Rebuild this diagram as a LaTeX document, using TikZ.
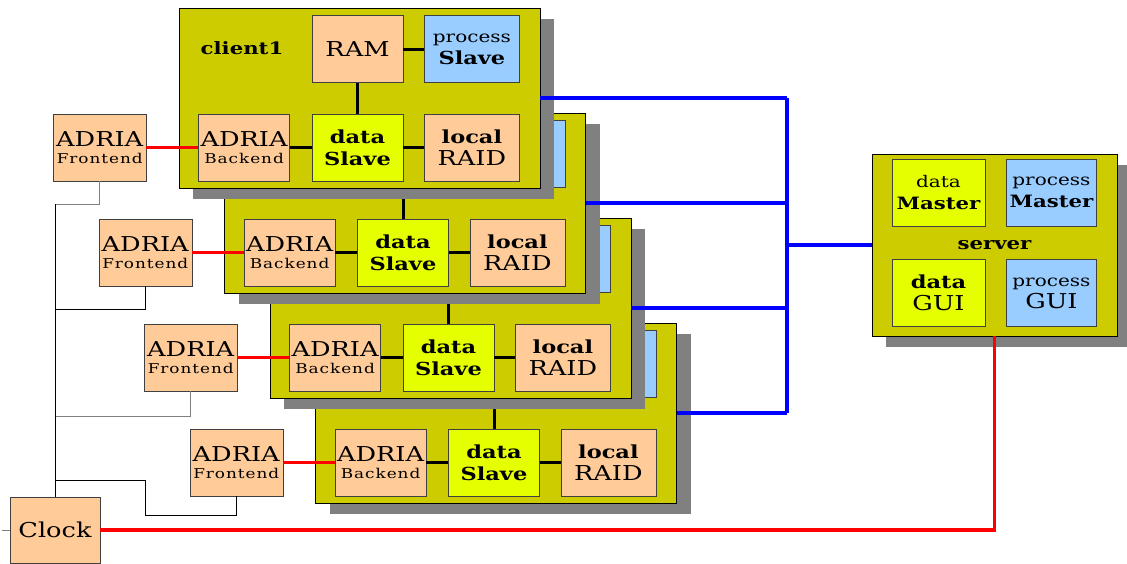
\documentclass[tikz,border=0pt]{standalone}
\usepackage{fontspec}
\setmainfont[FakeStretch=1.25]{DejaVu Serif}
\usetikzlibrary{positioning,shadows}

\definecolor{hostolive}{HTML}{CCCC00}
\definecolor{peachbox}{HTML}{FFCC99}
\definecolor{dataylw}{HTML}{E6FF00}
\definecolor{procblue}{HTML}{99CCFF}
\definecolor{shadowgray}{HTML}{808080}

\newcommand\bigtxt{\fontsize{20.5}{22}\selectfont}
\newcommand\boldtxt{\fontsize{18}{22}\selectfont\bfseries}
\newcommand\proctxt{\fontsize{16}{22}\selectfont}
\newcommand\tagtxt{\fontsize{13.5}{16}\selectfont\addfontfeature{LetterSpace=7}}
\newcommand\hosttxt{\fontsize{17}{19}\selectfont\bfseries}

\begin{document}
\begin{tikzpicture}[
  x=1pt, y=-1pt,
  hostbox/.style={draw=black, fill=hostolive, inner sep=0pt,
    drop shadow={shadow xshift=14pt, shadow yshift=-11pt, fill=shadowgray, opacity=1}},
  clientbox/.style={hostbox, minimum width=361pt, minimum height=180pt},
  serverbox/.style={hostbox, minimum width=245pt, minimum height=182pt},
  unit/.style={draw=black!75, inner sep=0pt, minimum height=67pt, align=center,
    font=\fontsize{18}{22}\selectfont},
  peach/.style={unit, fill=peachbox, minimum width=91pt},
  lemon/.style={unit, fill=dataylw, minimum width=91pt},
  sky/.style={unit, fill=procblue, minimum width=95pt},
  adria/.style={peach, font=\fontsize{13.5}{16.5}\selectfont},
  wire/.style={line width=3pt},
  redwire/.style={line width=3.5pt, red},
  bluewire/.style={line width=3.5pt, blue},
  sync/.style={line width=0.8pt}
]
\useasboundingbox (0,0) rectangle (1127,563);

% clients, back to front (top row of 2-4 is hidden)
\foreach \i in {4,3,2,1}{
  \begin{scope}[shift={({45.5*(\i-1)},{105*(\i-1)})}]
    \node[clientbox] (c\i) at (359.5,98) {};
    \node[lemon] (ds\i) at (357.5,147.5) {\boldtxt data\\\boldtxt Slave};
    \node[adria, left=22pt of ds\i] (be\i) {\bigtxt ADRIA\\\tagtxt Backend};
    \node[peach, right=21pt of ds\i, minimum width=95pt] (rd\i) {\boldtxt local\\\bigtxt RAID};
    \node[peach, above=31pt of ds\i] (ram\i) {\ifnum\i=1 \bigtxt RAM\fi};
    \node[sky, right=21pt of ram\i] (ps\i) {\ifnum\i=1 \proctxt process\\\boldtxt Slave\fi};
    \draw[wire] (be\i) -- (ds\i);
    \draw[wire] (ds\i) -- (rd\i);
    \draw[wire] (ram\i) -- (ps\i);
    \draw[wire] (ram\i) -- (ds\i);
    \node[adria, minimum width=93pt, left=52pt of be\i] (fe\i) {\bigtxt ADRIA\\\tagtxt Frontend};
  \end{scope}
}
\node[font=\hosttxt] (lbl1) at (242,48) {client1};

% server
\node[serverbox] (srv) at (994.5,245) {};
\node[lemon, minimum width=93pt] (dm) at (938.5,192.5) {\proctxt data\\\boldtxt\fontsize{17}{22}\selectfont Master};
\node[sky, minimum width=90pt, right=21pt of dm] (pm) {\proctxt process\\\boldtxt\fontsize{17}{22}\selectfont Master};
\node[lemon, minimum width=93pt, below=33pt of dm] (dg) {\boldtxt data\\\bigtxt GUI};
\node[sky, minimum width=90pt, right=21pt of dg] (pg) {\proctxt process\\\bigtxt GUI};
\node[font=\hosttxt] (slbl) at (srv) {server};

% clock
\node[peach, minimum width=90pt, minimum height=66pt] (clk) at (55,530) {\bigtxt Clock};
\draw[sync, gray] (clk.west) -- ++(-8,0);

% frontend to backend links
\foreach \i in {1,...,4}
  \draw[redwire] (fe\i) -- (be\i);

% clock distribution
\draw[sync, gray] (fe1.south) -- ++(0,23) coordinate (k1) -- (k1 -| clk);
\draw[sync] (fe2.south) -- ++(0,23) coordinate (k2) -- (k2 -| clk);
\draw[sync, gray] (fe3.south) -- ++(0,25) coordinate (k3) -- (k3 -| clk);
\draw[sync] (fe4.south) -- ++(0,19) -- ++(-91,0) -- ++(0,-35) coordinate (k4) -- (k4 -| clk);
\draw[sync] (clk.north) -- (clk.north |- k1);

% network
\coordinate (hub) at (787,245);
\foreach \i in {1,...,4}
  \draw[bluewire] (c\i.east) -- (c\i.east -| hub);
\draw[bluewire] (c1.east -| hub) -- (c4.east -| hub);
\draw[bluewire] (hub) -- (srv.west);

% clock to server
\draw[redwire] (clk.east) -| (srv.south);
\end{tikzpicture}
\end{document}
